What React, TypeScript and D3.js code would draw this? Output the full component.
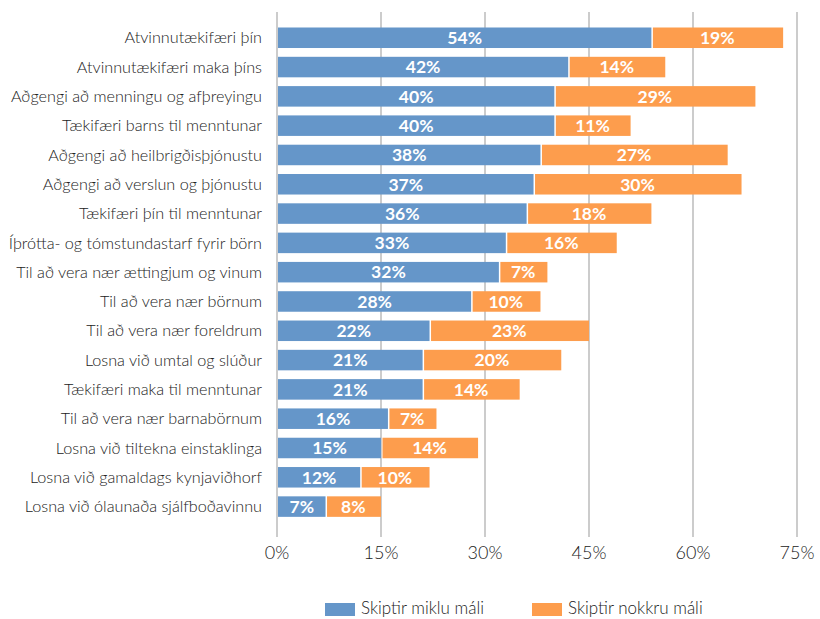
import React from "react";
import * as d3 from "d3";

const categories = [
  "Atvinnutækifæri þín",
  "Atvinnutækifæri maka þíns",
  "Aðgengi að menningu og afþreyingu",
  "Tækifæri barns til menntunar",
  "Aðgengi að heilbrigðisþjónustu",
  "Aðgengi að verslun og þjónustu",
  "Tækifæri  þín til menntunar",
  "Íþrótta- og tómstundastarf fyrir börn",
  "Til að vera nær ættingjum og vinum",
  "Til að vera nær börnum",
  "Til að vera nær foreldrum",
  "Losna við umtal og slúður",
  "Tækifæri maka til menntunar",
  "Til að vera nær barnabörnum",
  "Losna við tiltekna einstaklinga",
  "Losna við gamaldags kynjaviðhorf",
  "Losna við ólaunaða sjálfboðavinnu",
];
const mikluMali = [54, 42, 40, 40, 38, 37, 36, 33, 32, 28, 22, 21, 21, 16, 15, 12, 7];
const nokkruMali = [19, 14, 29, 11, 27, 30, 18, 16, 7, 10, 23, 20, 14, 7, 14, 10, 8];
const seriesNames = ["Skiptir miklu máli", "Skiptir nokkru máli"];
const colors = ["#6596C9", "#FD9D4D"];
const xTicks = [0, 15, 30, 45, 60, 75];

const width = 820;
const height = 619;
const font = "Lato, 'Open Sans', sans-serif";

export default function App() {
  const x = d3.scaleLinear().domain([0, 75]).range([277, 797]);
  const y = d3.scaleBand().domain(categories).range([12.85, 531.5]).paddingInner(0.3).paddingOuter(0.5);

  return (
    <svg width={width} height={height} style={{ position: "absolute", left: 0, top: 0 }}>
      {/* gridlines */}
      {xTicks.map(t => (
        <line key={t} x1={x(t)} x2={x(t)} y1={12} y2={537} stroke="#cccccc" strokeWidth={2} />
      ))}
      {/* bars */}
      {categories.map((c, i) => {
        const y0 = y(c)!;
        const a = mikluMali[i], b = nokkruMali[i];
        const xa = x(0) + 1, xb = x(a);
        return (
          <g key={c}>
            <rect x={xa} y={y0} width={xb - xa} height={y.bandwidth()} fill={colors[0]} />
            <rect x={xb + 1.5} y={y0} width={x(a + b) - xb - 1.5} height={y.bandwidth()} fill={colors[1]} />
            <text x={(xa + xb) / 2} y={y0 + y.bandwidth() / 2} dy="0.36em" textAnchor="middle"
              fill="#fff" fontWeight={700} fontSize={17.5} fontFamily={font}>{a}%</text>
            <text x={(xb + x(a + b)) / 2} y={y0 + y.bandwidth() / 2} dy="0.36em" textAnchor="middle"
              fill="#fff" fontWeight={700} fontSize={17.5} fontFamily={font}>{b}%</text>
            <text x={262} y={y0 + y.bandwidth() / 2} dy="0.35em" textAnchor="end"
              fill="#222" fontWeight={300} fontSize={16.2} fontFamily={font}>{c}</text>
          </g>
        );
      })}
      {/* x tick labels */}
      {xTicks.map(t => (
        <text key={t} x={x(t)} y={559} textAnchor="middle" fill="#222" fontWeight={300}
          fontSize={18} fontFamily={font}>{t}%</text>
      ))}
      {/* legend */}
      {seriesNames.map((s, i) => {
        const lx = i === 0 ? 325 : 532;
        return (
          <g key={s}>
            <rect x={lx} y={603} width={30} height={13} fill={colors[i]} />
            <text x={lx + 36} y={614} fill="#222" fontWeight={300} fontSize={17} fontFamily={font}>{s}</text>
          </g>
        );
      })}
    </svg>
  );
}
